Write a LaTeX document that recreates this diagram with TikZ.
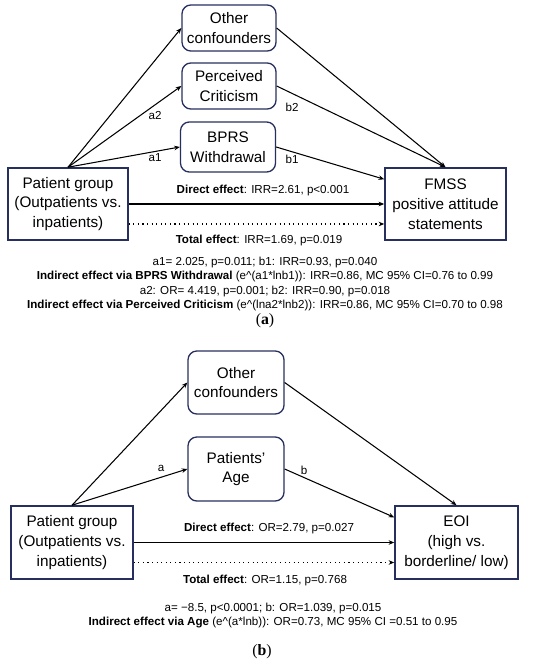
\documentclass[tikz,border=0pt]{standalone}
\usepackage{fontspec}
\setmainfont{Liberation Sans}
\newfontfamily\capfont{Liberation Serif}
\usetikzlibrary{arrows.meta}
\definecolor{boxnavy}{HTML}{262F5E}

\begin{document}
\begin{tikzpicture}[x=0.02cm,y=-0.02cm,
        box/.style={draw=boxnavy,line width=0.75pt,rounded corners=5pt,align=center,
                    inner sep=0pt,font=\fontsize{8.7}{11.3}\selectfont},
        sqbox/.style={draw=boxnavy,line width=0.9pt,align=center,inner sep=0pt,
                    font=\fontsize{8.7}{11.3}\selectfont},
        path/.style={line width=0.6pt,-{Stealth[length=3.2pt,width=2.6pt]}},
        tot/.style={line width=0.6pt,dotted,-{Stealth[length=3.2pt,width=2.6pt]}},
        lbl/.style={font=\fontsize{6.6}{8.3}\selectfont,inner sep=0pt},
        info/.style={font=\fontsize{6.6}{8.3}\selectfont,inner sep=0pt,align=center}]
            \useasboundingbox (0,0) rectangle (550,662);

            % (a) %
            \node [box,minimum width=1.88cm,minimum height=0.92cm] (oc1) at (229,28) {Other\\confounders};
            \node [box,minimum width=1.88cm,minimum height=0.92cm] (pc) at (229,86) {Perceived\\Criticism};
            \node [box,minimum width=1.90cm,minimum height=1.00cm] (bprs) at (228,147) {BPRS\\Withdrawal};
            \node [sqbox,minimum width=2.40cm,minimum height=1.44cm] (pg1) at (68,204) {Patient group\\(Outpatients vs.\\inpatients)};
            \node [sqbox,minimum width=2.42cm,minimum height=1.44cm] (fmss) at (445.5,204) {FMSS\\positive attitude\\statements};

            \draw [path] (pg1.north) -- (oc1.west);
            \draw [path] (pg1.north) -- (pc.west);
            \draw [path] (pg1.north) -- (bprs.west);
            \draw [path] (oc1.east) -- (fmss.north);
            \draw [path] (pc.east) -- (fmss.north);
            \draw [path] (bprs.east) -- (fmss.158);
            \draw [path] (pg1.east) -- (fmss.west);
            \draw [tot] ([yshift=-0.4cm]pg1.east) -- ([yshift=-0.4cm]fmss.west);

            \node [lbl] (la2) at (155,116) {a2};
            \node [lbl] (la1) at (155,158) {a1};
            \node [lbl] (lb2) at (292,107) {b2};
            \node [lbl] (lb1) at (292,159) {b1};

            \node [lbl] (dir1) at (263,191) {\textbf{Direct effect}: IRR=2.61, p<0.001};
            \node [lbl] (tot1) at (259,241) {\textbf{Total effect}: IRR=1.69, p=0.019};
            \node [info] (ind1) at (265,284) {a1= 2.025, p=0.011; b1: IRR=0.93, p=0.040\\
                \textbf{Indirect effect via BPRS Withdrawal} (e\^{}(a1*lnb1)): IRR=0.86, MC 95\% CI=0.76 to 0.99\\
                a2: OR= 4.419, p=0.001; b2: IRR=0.90, p=0.018\\
                \textbf{Indirect effect via Perceived Criticism} (e\^{}(lna2*lnb2)): IRR=0.86, MC 95\% CI=0.70 to 0.98};
            \node [inner sep=0pt,font=\capfont\fontsize{9}{11}\selectfont] (capa) at (265,321) {(\textbf{a})};

            % (b) %
            \node [box,minimum width=1.92cm,minimum height=1.26cm] (oc2) at (236,382.5) {Other\\confounders};
            \node [box,minimum width=1.92cm,minimum height=1.28cm] (age) at (236,469) {Patients'\\Age};
            \node [sqbox,minimum width=2.44cm,minimum height=1.46cm] (pg2) at (72,542.5) {Patient group\\(Outpatients vs.\\inpatients)};
            \node [sqbox,minimum width=2.46cm,minimum height=1.46cm] (eoi) at (456.5,542.5) {EOI\\(high vs.\\borderline/ low)};

            \draw [path] (pg2.north) -- (oc2.west);
            \draw [path] (pg2.north) -- (age.west);
            \draw [path] (oc2.east) -- (eoi.north);
            \draw [path] (age.east) -- (eoi.158);
            \draw [path] (pg2.east) -- (eoi.west);
            \draw [tot] ([yshift=-0.4cm]pg2.east) -- ([yshift=-0.4cm]eoi.west);

            \node [lbl] (la) at (161,468) {a};
            \node [lbl] (lb) at (304,470) {b};

            \node [lbl] (dir2) at (269,528) {\textbf{Direct effect}: OR=2.79, p=0.027};
            \node [lbl] (tot2) at (265,580) {\textbf{Total effect}: OR=1.15, p=0.768};
            \node [info] (ind2) at (273,615.5) {a= −8.5, p<0.0001; b: OR=1.039, p=0.015\\
                \textbf{Indirect effect via Age} (e\^{}(a*lnb)): OR=0.73, MC 95\% CI =0.51 to 0.95};
            \node [inner sep=0pt,font=\capfont\fontsize{9}{11}\selectfont] (capb) at (262,652) {(\textbf{b})};
\end{tikzpicture}
\end{document}
